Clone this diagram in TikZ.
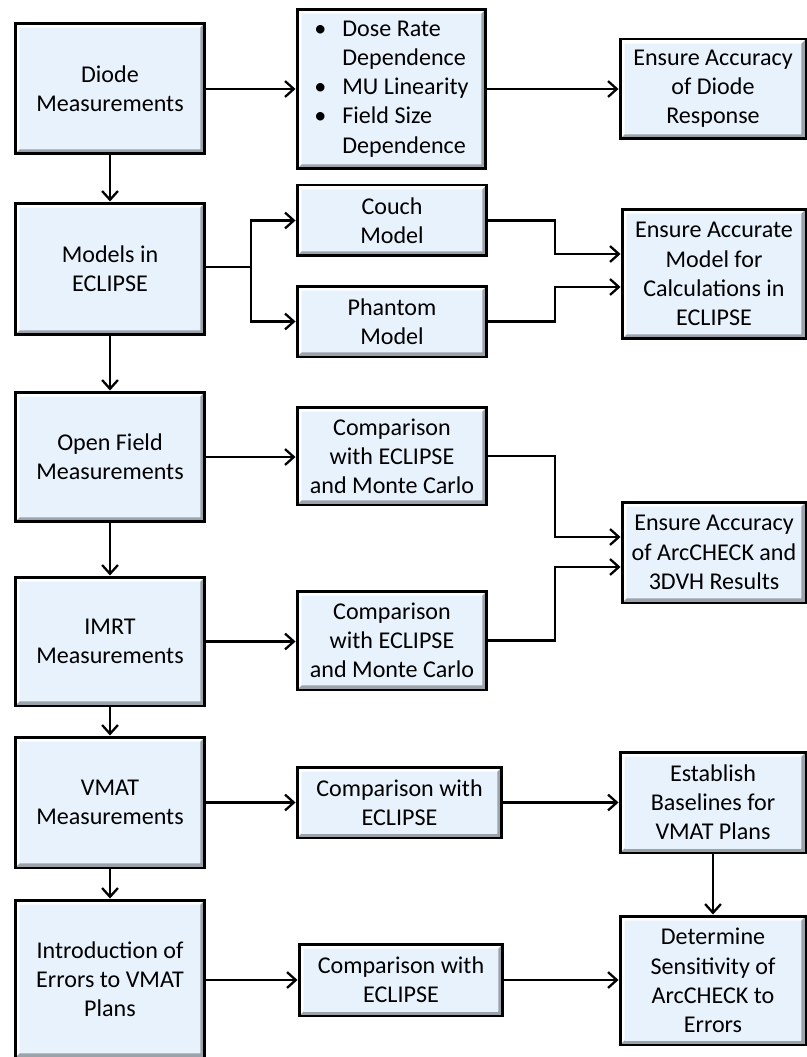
\documentclass[tikz,border=0pt]{standalone}
\usepackage{fontspec}
\setmainfont{Carlito}
\usetikzlibrary{arrows.meta,calc}
\definecolor{boxfill}{HTML}{E8F2FC}
\definecolor{bevdark}{HTML}{9CA2AA}
\definecolor{bevlight}{HTML}{FFFFFF}
\tikzset{
  flowbox/.style={draw=black, line width=1.7pt, fill=boxfill, inner sep=0pt,
    align=center, font=\fontsize{13.7pt}{16.6pt}\selectfont,
    path picture={
      \path (path picture bounding box.south west) coordinate (bsw)
            (path picture bounding box.north east) coordinate (bne);
      \fill[bevlight] (bsw) -- (bsw|-bne) -- (bne) -- ($(bne)+(-0.09cm,-0.09cm)$)
         -- ($(bsw|-bne)+(0.09cm,-0.09cm)$) -- ($(bsw)+(0.09cm,0.09cm)$) -- cycle;
      \fill[bevdark] (bsw) -- (bne|-bsw) -- (bne) -- ($(bne)+(-0.09cm,-0.09cm)$)
         -- ($(bne|-bsw)+(-0.09cm,0.09cm)$) -- ($(bsw)+(0.09cm,0.09cm)$) -- cycle;
      \fill[boxfill] ($(bsw)+(0.09cm,0.09cm)$) rectangle ($(bne)+(-0.09cm,-0.09cm)$);
    }},
  conn/.style={line width=1.3pt, -{Straight Barb[length=5pt,width=9pt,line width=1.3pt]}},
}
\newcommand{\bulitem}{\makebox[0.56cm][l]{\textbullet}}
\begin{document}
\begin{tikzpicture}[x=0.02cm,y=-0.02cm]
\useasboundingbox (0,0) rectangle (807,1057);
% left column
\node[flowbox, minimum width=3.8cm, minimum height=2.62cm] (diode) at (110,88.5) {Diode\\Measurements};
\node[flowbox, minimum width=3.8cm, minimum height=2.64cm] (models) at (110,269) {Models in\\ECLIPSE};
\node[flowbox, minimum width=3.8cm, minimum height=2.6cm] (open) at (110,457) {Open Field\\Measurements};
\node[flowbox, minimum width=3.8cm, minimum height=2.58cm] (imrt) at (110,641.5) {IMRT\\Measurements};
\node[flowbox, minimum width=3.8cm, minimum height=2.62cm] (vmat) at (110,802.5) {VMAT\\Measurements};
\node[flowbox, minimum width=3.8cm, minimum height=3.16cm] (err) at (110,979) {Introduction of\\Errors to VMAT\\Plans};
% middle column
\node[flowbox, minimum width=3.78cm, minimum height=3.2cm, align=left] (bul) at (391.5,89)
  {\bulitem Dose Rate\\\hspace*{0.56cm}Dependence\\\bulitem MU Linearity\\\bulitem Field Size\\\hspace*{0.56cm}Dependence};
\node[flowbox, minimum width=3.8cm, minimum height=1.42cm] (couch) at (392,220.5) {Couch\\Model};
\node[flowbox, minimum width=3.8cm, minimum height=1.42cm] (phantom) at (392,321.5) {Phantom\\Model};
\node[flowbox, minimum width=3.8cm, minimum height=1.96cm] (cmp1) at (392,456) {Comparison\\with ECLIPSE\\and Monte Carlo};
\node[flowbox, minimum width=3.8cm, minimum height=1.98cm] (cmp2) at (392,640.5) {Comparison\\with ECLIPSE\\and Monte Carlo};
\node[flowbox, minimum width=4.1cm, minimum height=1.42cm] (cmp3) at (399.5,802.5) {Comparison with\\ECLIPSE};
\node[flowbox, minimum width=4.08cm, minimum height=1.44cm] (cmp4) at (401,980) {Comparison with\\ECLIPSE};
% right column
\node[flowbox, minimum width=3.72cm, minimum height=2.0cm] (ensd) at (713,89) {Ensure Accuracy\\of Diode\\Response};
\node[flowbox, minimum width=3.68cm, minimum height=2.6cm] (ensm) at (714,274) {Ensure Accurate\\Model for\\Calculations in\\ECLIPSE};
\node[flowbox, minimum width=3.68cm, minimum height=2.02cm] (ensa) at (714,552.5) {Ensure Accuracy\\of ArcCHECK and\\3DVH Results};
\node[flowbox, minimum width=3.72cm, minimum height=2.02cm] (estab) at (713,802.5) {Establish\\Baselines for\\VMAT Plans};
\node[flowbox, minimum width=3.72cm, minimum height=2.58cm] (det) at (713,980.5) {Determine\\Sensitivity of\\ArcCHECK to\\Errors};
% branch coordinate
\coordinate (bm) at (251,267);
% connectors
\draw[conn] (diode.east |- 0,89) -- (bul.west |- 0,89);
\draw[conn] (bul.east |- 0,89) -- (ensd.west |- 0,89);
\draw[conn] (diode) -- (models);
\draw[conn] (models) -- (open);
\draw[conn] (open) -- (imrt);
\draw[conn] (imrt) -- (vmat);
\draw[conn] (vmat) -- (err);
\draw[line width=1.3pt] (models.east |- bm) -- (bm);
\draw[conn] (bm) |- (couch.west);
\draw[conn] (bm) |- (phantom.west);
\draw[conn] (couch.east) -| (555,254) -- (ensm.west |- 0,254);
\draw[conn] (phantom.east) -| (555,287) -- (ensm.west |- 0,287);
\draw[conn] (open.east) -- (cmp1.west |- open.east);
\draw[conn] (cmp1.east) -| (555,537) -- (ensa.west |- 0,537);
\draw[conn] (imrt.east) -- (cmp2.west |- imrt.east);
\draw[conn] (cmp2.east) -| (555,567) -- (ensa.west |- 0,567);
\draw[conn] (vmat.east) -- (cmp3.west |- vmat.east);
\draw[conn] (cmp3.east) -- (estab.west |- cmp3.east);
\draw[conn] (err.east |- cmp4.west) -- (cmp4.west);
\draw[conn] (cmp4.east) -- (det.west |- cmp4.east);
\draw[conn] (estab) -- (det);
\end{tikzpicture}
\end{document}
